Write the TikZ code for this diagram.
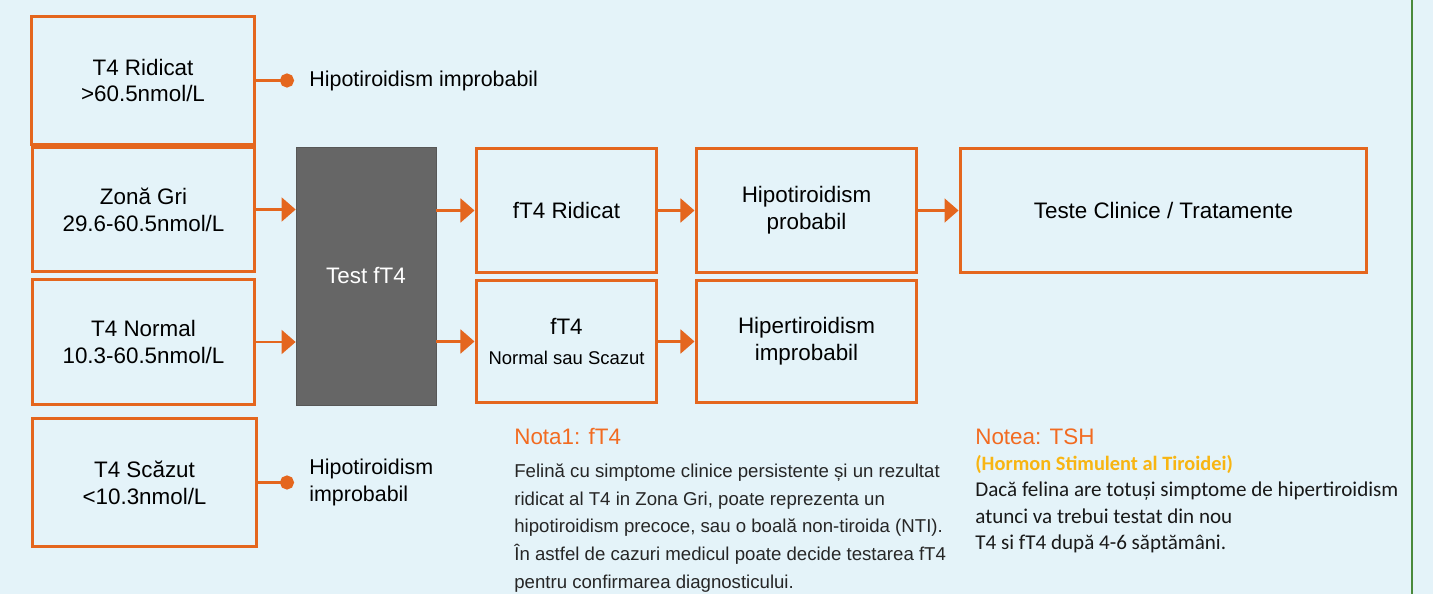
\documentclass[tikz,border=0pt]{standalone}
\usepackage{fontspec}
\setmainfont{Liberation Sans}
\newfontfamily\calibri{Carlito}
\usetikzlibrary{arrows.meta,positioning}
\definecolor{bgblue}{HTML}{E4F3F9}
\definecolor{boxorange}{HTML}{E4661E}
\definecolor{noteorange}{HTML}{F26B21}
\definecolor{noteyellow}{HTML}{F8B512}
\definecolor{testgray}{HTML}{666666}
\definecolor{edgegreen}{HTML}{4A8A3C}

\begin{document}
\begin{tikzpicture}[x=0.02cm, y=-0.02cm]
  % Styles
  \tikzset{
    result/.style={rectangle, draw=boxorange, line width=1.7pt, align=center,
      inner sep=2pt, font=\fontsize{12.75}{15.3}\selectfont},
    testbox/.style={rectangle, fill=testgray, draw=testgray!85!black, text=white,
      font=\fontsize{12.75}{15.3}\selectfont},
    arrow/.style={-{Triangle[length=8pt,width=13.5pt]}, line width=1.7pt, boxorange},
    dotline/.style={-{Circle[length=8pt]}, line width=1.7pt, boxorange},
    label/.style={inner sep=0pt, align=left, font=\fontsize{12.2}{15.3}\selectfont},
    notetitle/.style={inner sep=0pt, anchor=base west, text=noteorange,
      font=\fontsize{12.75}{15.3}\selectfont}
  }

  \useasboundingbox (0,0) rectangle (1433,594);
  \clip (0,0) rectangle (1433,594);
  \fill[bgblue] (0,0) rectangle (1433,594);
  \draw[edgegreen, line width=1.2pt] (1412,0) -- (1412,594);

  % ----- T4 results -----
  \node[result, minimum width=4.48cm, minimum height=2.58cm] (t4high) at (143,80.5)
    {T4 Ridicat\\>60.5nmol/L};
  \node[result, minimum width=4.46cm, minimum height=2.5cm] (t4gray) at (143.5,209.5)
    {Zonă Gri\\29.6-60.5nmol/L};
  \node[result, minimum width=4.46cm, minimum height=2.52cm] (t4normal) at (143.5,342)
    {T4 Normal\\10.3-60.5nmol/L};
  \node[result, minimum width=4.5cm, minimum height=2.58cm] (t4low) at (144.5,482.5)
    {T4 Scăzut\\<10.3nmol/L};

  % ----- Test fT4 -----
  \node[testbox, minimum width=2.8cm, minimum height=5.16cm] (testft4) at (366,276) {Test fT4};

  % ----- fT4 results and outcome -----
  \node[result, minimum width=3.62cm, minimum height=2.5cm] (ft4high) at (566.5,210.5)
    {fT4 Ridicat};
  \node[result, minimum width=3.62cm, minimum height=2.46cm] (ft4normal) at (566.5,341.5)
    {fT4\\[2pt]{\fontsize{10.5}{12.6}\selectfont Normal sau Scazut}};
  \node[result, minimum width=4.42cm, minimum height=2.5cm] (hypoprob) at (806.5,210.5)
    {Hipotiroidism\\probabil};
  \node[result, minimum width=4.42cm, minimum height=2.46cm] (hyperimprob) at (806.5,341.5)
    {Hipertiroidism\\improbabil};
  \node[result, minimum width=8.14cm, minimum height=2.5cm] (clinic) at (1163.5,210.5)
    {Teste Clinice / Tratamente};

  % ----- Side outcomes -----
  \coordinate (dothigh) at (294,80.5);
  \coordinate (dotlow) at (294,482.5);
  \draw[dotline] (t4high.east) -- (dothigh);
  \draw[dotline] (t4low.east) -- (dotlow);
  \node[label, right=0.3cm of dothigh] (improbhigh) {Hipotiroidism improbabil};
  \node[label, right=0.3cm of dotlow] (improblow) {Hipotiroidism\\improbabil};

  % ----- Arrows -----
  \draw[arrow] (t4gray.east) -- (t4gray.east -| testft4.west);
  \draw[arrow] (t4normal.east) -- (t4normal.east -| testft4.west);
  \draw[arrow] (testft4.east |- ft4high.west) -- (ft4high.west);
  \draw[arrow] (testft4.east |- ft4normal.west) -- (ft4normal.west);
  \draw[arrow] (ft4high.east) -- (hypoprob.west);
  \draw[arrow] (ft4normal.east) -- (hyperimprob.west);
  \draw[arrow] (hypoprob.east) -- (clinic.west);

  % ----- Notes -----
  \node[notetitle] (nota1) at (514,444) {Nota1: fT4};
  \node[inner sep=0pt, anchor=north west, align=left,
    font=\fontsize{10.6}{15.9}\selectfont, text=black!85] (nota1text) at (514,463)
    {Felină cu simptome clinice persistente și un rezultat\\
     ridicat al T4 in Zona Gri, poate reprezenta un\\
     hipotiroidism precoce, sau o boală non-tiroida (NTI).\\
     În astfel de cazuri medicul poate decide testarea fT4\\
     pentru confirmarea diagnosticului.};

  \node[notetitle] (notea) at (975,444) {Notea: TSH};
  \node[inner sep=0pt, anchor=base west, text=noteyellow,
    font=\calibri\bfseries\fontsize{11.6}{14}\selectfont] (tshname) at (975,470)
    {(Hormon Stimulent al Tiroidei)};
  \node[inner sep=0pt, anchor=north west, align=left,
    font=\calibri\fontsize{12}{15}\selectfont, text=black!90] (noteatext) at (975,482)
    {Dacă felina are totuși simptome de hipertiroidism\\
     atunci va trebui testat din nou\\
     T4 si fT4 după 4-6 săptămâni.};

\end{tikzpicture}
\end{document}
